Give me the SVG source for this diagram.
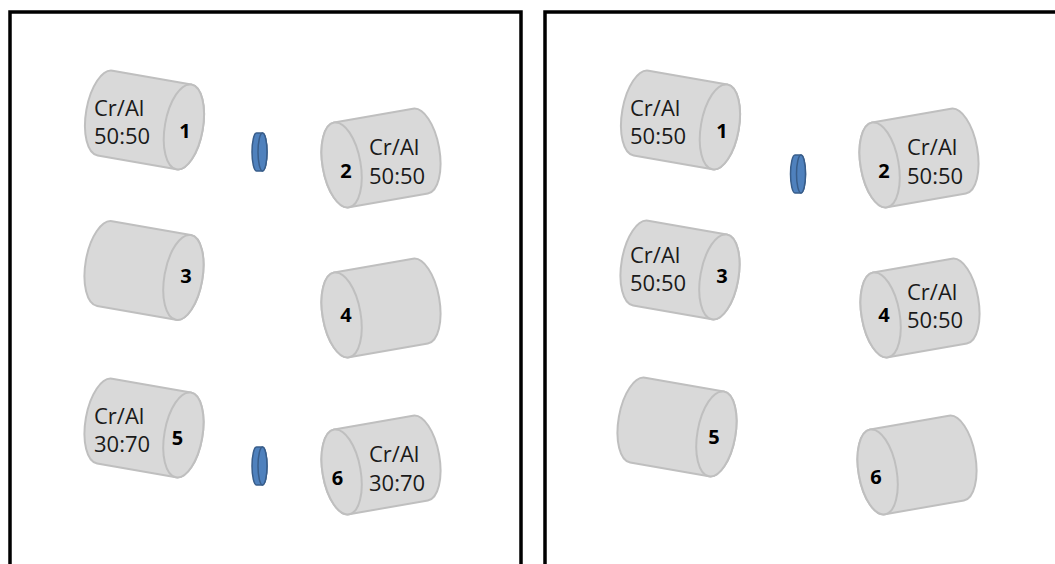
<svg xmlns="http://www.w3.org/2000/svg" xmlns:xlink="http://www.w3.org/1999/xlink" width="1055" height="564" viewBox="0 0 1055 564">
  <style>
    .frame { fill: none; stroke: #000; stroke-width: 3.5; }
    .can { fill: #d9d9d9; stroke: #bfbfbf; stroke-width: 2; }
    .disc { fill: #4f81bd; stroke: #385d8a; stroke-width: 1.5; }
    .lbl { font-family: "Open Sans", "Liberation Sans", sans-serif; font-size: 22px; fill: #1a1a1a; }
    .num { font-family: "Open Sans", "Liberation Sans", sans-serif; font-size: 20px; font-weight: bold; fill: #000; text-anchor: middle; }
  </style>
  <defs>
    <!-- lying cylinder, open end face at +x -->
    <g id="cyl">
      <path class="can" d="M-40,-43 H40 A19,43 0 0 1 40,43 H-40 A19,43 0 0 1 -40,-43 Z"/>
      <ellipse class="can" cx="40" cy="0" rx="19" ry="43"/>
    </g>
    <!-- small standing disc -->
    <g id="disc">
      <path class="disc" d="M-3,-19 H3 A4.5,19 0 0 1 3,19 H-3 A4.5,19 0 0 1 -3,-19 Z"/>
      <ellipse class="disc" cx="3" cy="0" rx="4.5" ry="19"/>
    </g>
  </defs>

  <!-- panel frames -->
  <g id="frames">
    <path class="frame" d="M10,570 V12 H521 V570"/>
    <path class="frame" d="M545,570 V12 H1060"/>
  </g>

  <g id="connectors"/>

  <!-- left panel -->
  <g id="L1">
    <use xlink:href="#cyl" transform="translate(144.5,120) rotate(10)"/>
    <text class="lbl" x="94" y="116">Cr/Al</text>
    <text class="lbl" x="94" y="144">50:50</text>
    <text class="num" x="185" y="138">1</text>
  </g>
  <g id="L2">
    <use xlink:href="#cyl" transform="translate(381,158) rotate(170)"/>
    <text class="num" x="346" y="178">2</text>
    <text class="lbl" x="369" y="155">Cr/Al</text>
    <text class="lbl" x="369" y="184">50:50</text>
  </g>
  <g id="L3">
    <use xlink:href="#cyl" transform="translate(144,270.5) rotate(10)"/>
    <text class="num" x="186" y="283">3</text>
  </g>
  <g id="L4">
    <use xlink:href="#cyl" transform="translate(381,308) rotate(170)"/>
    <text class="num" x="346" y="322">4</text>
  </g>
  <g id="L5">
    <use xlink:href="#cyl" transform="translate(144,428) rotate(10)"/>
    <text class="lbl" x="94" y="424">Cr/Al</text>
    <text class="lbl" x="94" y="452">30:70</text>
    <text class="num" x="177.5" y="445">5</text>
  </g>
  <g id="L6">
    <use xlink:href="#cyl" transform="translate(381,465) rotate(170)"/>
    <text class="num" x="337.5" y="485">6</text>
    <text class="lbl" x="369" y="462">Cr/Al</text>
    <text class="lbl" x="369" y="491">30:70</text>
  </g>
  <g id="Ldisc1"><use xlink:href="#disc" transform="translate(259.5,152)"/></g>
  <g id="Ldisc2"><use xlink:href="#disc" transform="translate(259.5,466)"/></g>

  <!-- right panel -->
  <g id="R1">
    <use xlink:href="#cyl" transform="translate(680.5,120) rotate(10)"/>
    <text class="lbl" x="630" y="116">Cr/Al</text>
    <text class="lbl" x="630" y="144">50:50</text>
    <text class="num" x="722" y="138">1</text>
  </g>
  <g id="R2">
    <use xlink:href="#cyl" transform="translate(919,158) rotate(170)"/>
    <text class="num" x="884" y="178">2</text>
    <text class="lbl" x="907" y="155">Cr/Al</text>
    <text class="lbl" x="907" y="184">50:50</text>
  </g>
  <g id="R3">
    <use xlink:href="#cyl" transform="translate(680,270) rotate(10)"/>
    <text class="lbl" x="630" y="263">Cr/Al</text>
    <text class="lbl" x="630" y="291">50:50</text>
    <text class="num" x="722" y="283">3</text>
  </g>
  <g id="R4">
    <use xlink:href="#cyl" transform="translate(920,308) rotate(170)"/>
    <text class="num" x="884" y="322">4</text>
    <text class="lbl" x="907" y="300">Cr/Al</text>
    <text class="lbl" x="907" y="328">50:50</text>
  </g>
  <g id="R5">
    <use xlink:href="#cyl" transform="translate(677,427) rotate(10)"/>
    <text class="num" x="714" y="444">5</text>
  </g>
  <g id="R6">
    <use xlink:href="#cyl" transform="translate(917,465) rotate(170)"/>
    <text class="num" x="876" y="484">6</text>
  </g>
  <g id="Rdisc"><use xlink:href="#disc" transform="translate(798,174)"/></g>
</svg>
